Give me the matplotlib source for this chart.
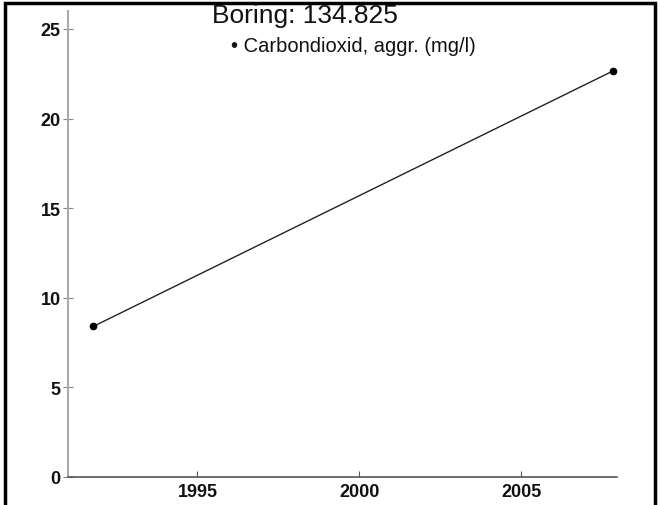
import matplotlib
matplotlib.use("Agg")
import matplotlib.pyplot as plt
from matplotlib.patches import Rectangle

# Measurements for well 134.825
years = [1991.78, 2007.83]
co2_values = [8.4, 22.65]
y_ticks = [0, 5, 10, 15, 20, 25]
x_ticks = [1995, 2000, 2005]
title = "Boring: 134.825"
series_label = "Carbondioxid, aggr. (mg/l)"

W, H = 660, 506
fig = plt.figure(figsize=(W / 100, H / 100), dpi=100)
plt.rcParams["font.family"] = ["Liberation Sans", "DejaVu Sans"]

ax = fig.add_axes([68 / W, 1 - 478 / H, (617 - 68) / W, (478 - 12) / H])
ax.plot(years, co2_values, color="#222222", lw=1.0, marker="o",
        markersize=4.5, markerfacecolor="black", markeredgecolor="black")

ax.set_xlim(1991.0, 2007.96)
ax.set_ylim(0, 26.0)
ax.set_xticks(x_ticks)
ax.set_yticks(y_ticks)

for side in ("top", "right"):
    ax.spines[side].set_visible(False)
ax.spines["left"].set_color("#aaaaaa")
ax.spines["left"].set_linewidth(1.5)
ax.spines["bottom"].set_color("#555555")
ax.spines["bottom"].set_linewidth(1.2)

ax.tick_params(axis="y", direction="inout", length=6.5, width=0.8, colors="#888888",
               labelcolor="#111111", labelsize=13, pad=2)
ax.tick_params(axis="x", direction="in", length=4, width=0.8, colors="#555555",
               labelcolor="#111111", labelsize=13, pad=4)
for lbl in ax.get_xticklabels() + ax.get_yticklabels():
    lbl.set_fontweight("bold")

fig.text(305 / W, 1 - 23 / H, title, ha="center", va="baseline",
         fontsize=19, color="#111111")
fig.text(231 / W, 1 - 52 / H, "\u2022 " + series_label, ha="left", va="baseline",
         fontsize=14.5, color="#111111")

# Outer frame
fig.patches.append(Rectangle((5 / W, -0.05), (655 - 5) / W, 1.05 - 4 / H,
                             transform=fig.transFigure, fill=False,
                             edgecolor="black", lw=2.5))

fig.savefig("out.png", dpi=100)
